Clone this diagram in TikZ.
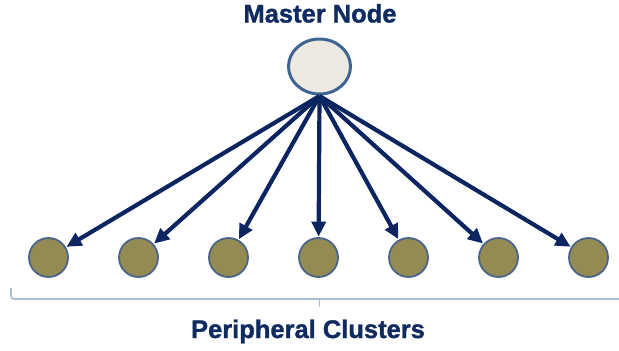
\documentclass[tikz,border=0pt]{standalone}
\usepackage{fontspec}
\setmainfont{Liberation Sans}
\newfontfamily\titlefont{Liberation Sans Bold}[FakeBold=1.3]
\usetikzlibrary{arrows.meta,shapes.geometric}
\definecolor{navy}{HTML}{0B2560}
\definecolor{txtnavy}{HTML}{0F2B5F}
\definecolor{olive}{HTML}{948A54}
\definecolor{rimblue}{HTML}{4A6587}
\definecolor{masterrim}{HTML}{3E6494}
\definecolor{masterfill}{HTML}{ECEAE1}
\definecolor{bracecol}{HTML}{A8BBD0}
\tikzset{
  leaf/.style={circle, draw=rimblue, fill=olive, line width=1.8bp, minimum size=39bp, inner sep=0pt},
  master/.style={ellipse, draw=masterrim, fill=masterfill, line width=3bp, minimum width=62bp, minimum height=55bp, inner sep=0pt},
  link/.style={draw=navy, line width=4.2bp, -{Triangle[length=15bp,width=14bp]}, shorten >=0.5bp},
  title/.style={text=txtnavy, font=\titlefont\fontsize{25.5bp}{30bp}\selectfont, inner sep=0pt, anchor=base},
  brace/.style={draw=bracecol, line width=1.6bp}
}
\begin{document}
\begin{tikzpicture}[x=1bp,y=-1bp]
\useasboundingbox (0,0) rectangle (619,350);
\node[title] (mt) at (320,22.5) {Master Node};
\node[master] (m) at (319.5,66.5) {};
\coordinate (src) at (319.5,96);
\foreach \i [count=\k] in {0,...,6} {
  \node[leaf] (c\k) at ({48.5+90*\i},257.5) {};
}
\foreach \k in {1,...,7} {
  \draw[link] (src) -- (c\k);
}
\coordinate (bl) at (11,288);
\coordinate (br) at (621,299);
\coordinate (bm) at (319.5,307);
\draw[brace] (bl) -- (11,296) arc[start angle=180,end angle=90,radius=3] -- (br);
\draw[brace] (319.5,299) -- (bm);
\node[title] (pc) at (308,338) {Peripheral Clusters};
\end{tikzpicture}
\end{document}
